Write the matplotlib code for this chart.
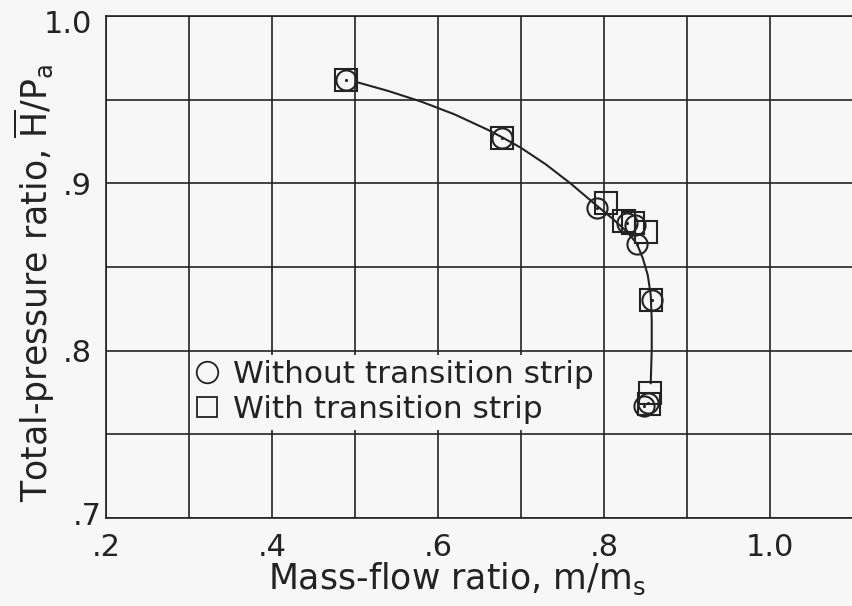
import matplotlib
matplotlib.use("Agg")
import matplotlib.pyplot as plt
import matplotlib.transforms as mtransforms
from matplotlib.lines import Line2D

plt.rcParams['font.family'] = ['DejaVu Sans']
plt.rcParams['mathtext.fontset'] = 'dejavusans'

BG = '#f7f7f7'
INK = '#232323'

# readings without transition strip (circles)
circ_x = [0.489, 0.677, 0.792, 0.828, 0.837, 0.840, 0.858, 0.848, 0.853]
circ_y = [0.962, 0.927, 0.885, 0.876, 0.875, 0.864, 0.830, 0.767, 0.769]

# readings with transition strip (squares)
sq_x = [0.489, 0.677, 0.802, 0.824, 0.835, 0.850, 0.857, 0.856, 0.854]
sq_y = [0.962, 0.927, 0.888, 0.8775, 0.876, 0.871, 0.830, 0.775, 0.768]

# faired curve
curve_x = [0.502, 0.54, 0.58, 0.62, 0.66, 0.6766, 0.70, 0.73, 0.76, 0.79,
           0.81, 0.8275, 0.8395, 0.8467, 0.8527, 0.8563, 0.8575, 0.8575, 0.8563]
curve_y = [0.9605, 0.9552, 0.9488, 0.9412, 0.9320, 0.9277, 0.9212, 0.9113, 0.8998, 0.8872,
           0.8790, 0.8712, 0.8640, 0.8553, 0.8452, 0.8332, 0.8183, 0.8004, 0.7806]

xticks = [0.2, 0.4, 0.6, 0.8, 1.0]
xticklabels = ['.2', '.4', '.6', '.8', '1.0']
xminor = [0.3, 0.5, 0.7, 0.9, 1.1]
yticks = [0.7, 0.8, 0.9, 1.0]
yticklabels = ['.7', '.8', '.9', '1.0']
yminor = [0.75, 0.85, 0.95]

fig = plt.figure(figsize=(8.53, 6.06), dpi=100, facecolor=BG)
ax = fig.add_axes([0.1243, 0.1452, 0.8757, 0.8284], facecolor=BG)

ax.plot(curve_x, curve_y, '-', color=INK, lw=1.5, zorder=3)
ax.plot(sq_x, sq_y, 's', ms=15.5, mfc='none', mec=INK, mew=1.5, zorder=4)
ax.plot(circ_x, circ_y, 'o', ms=14.5, mfc='none', mec=INK, mew=1.5, zorder=4)
ax.plot(circ_x, circ_y, '.', ms=2.5, color=INK, zorder=4)

ax.set_xlim(0.2, 1.0946)
ax.set_ylim(0.7, 1.0)
ax.set_xticks(xticks)
ax.set_xticklabels(xticklabels)
ax.set_xticks(xminor, minor=True)
ax.set_yticks(yticks)
ax.set_yticklabels(yticklabels)
ax.set_yticks(yminor, minor=True)
ax.tick_params(which='both', length=0, labelsize=22, labelcolor=INK)
ax.tick_params(axis='x', pad=11)
ax.tick_params(axis='y', pad=10)
ax.grid(which='both', color=INK, lw=1.2, zorder=1)
ax.set_axisbelow(True)
for side in ['left', 'bottom', 'top']:
    ax.spines[side].set_color(INK)
    ax.spines[side].set_linewidth(1.2)
ax.spines['right'].set_visible(False)

# nudge corner labels like the original lettering
ylabs = ax.get_yticklabels()
ylabs[0].set_transform(ylabs[0].get_transform() +
                       mtransforms.ScaledTranslation(10 / 100, 5 / 100, fig.dpi_scale_trans))
ylabs[-1].set_transform(ylabs[-1].get_transform() +
                        mtransforms.ScaledTranslation(0, -6 / 100, fig.dpi_scale_trans))

ax.set_xlabel('Mass-flow ratio, m/m$_\\mathrm{s}$', fontsize=25, color=INK)
ax.xaxis.set_label_coords(0.47, -0.085)
ax.set_ylabel('Total-pressure ratio, $\\overline{\\mathrm{H}}/\\mathrm{P}_\\mathrm{a}$',
              fontsize=25, color=INK)
ax.yaxis.set_label_coords(-0.066, 0.468)

handles = [
    Line2D([], [], ls='none', marker='o', ms=15.5, mfc='none', mec=INK, mew=1.3),
    Line2D([], [], ls='none', marker='s', ms=14.5, mfc='none', mec=INK, mew=1.3),
]
leg = ax.legend(handles, ['Without transition strip', 'With transition strip'],
                loc='upper left', bbox_to_anchor=(0.3015, 0.7975),
                bbox_transform=ax.transData, fontsize=22.5, frameon=True,
                facecolor=BG, edgecolor='none', framealpha=1, fancybox=False,
                borderpad=0.17, borderaxespad=0, labelspacing=0.2,
                handlelength=0.75, handletextpad=0.45)
for t in leg.get_texts():
    t.set_color(INK)

fig.savefig('out.png', dpi=100, facecolor=BG)
